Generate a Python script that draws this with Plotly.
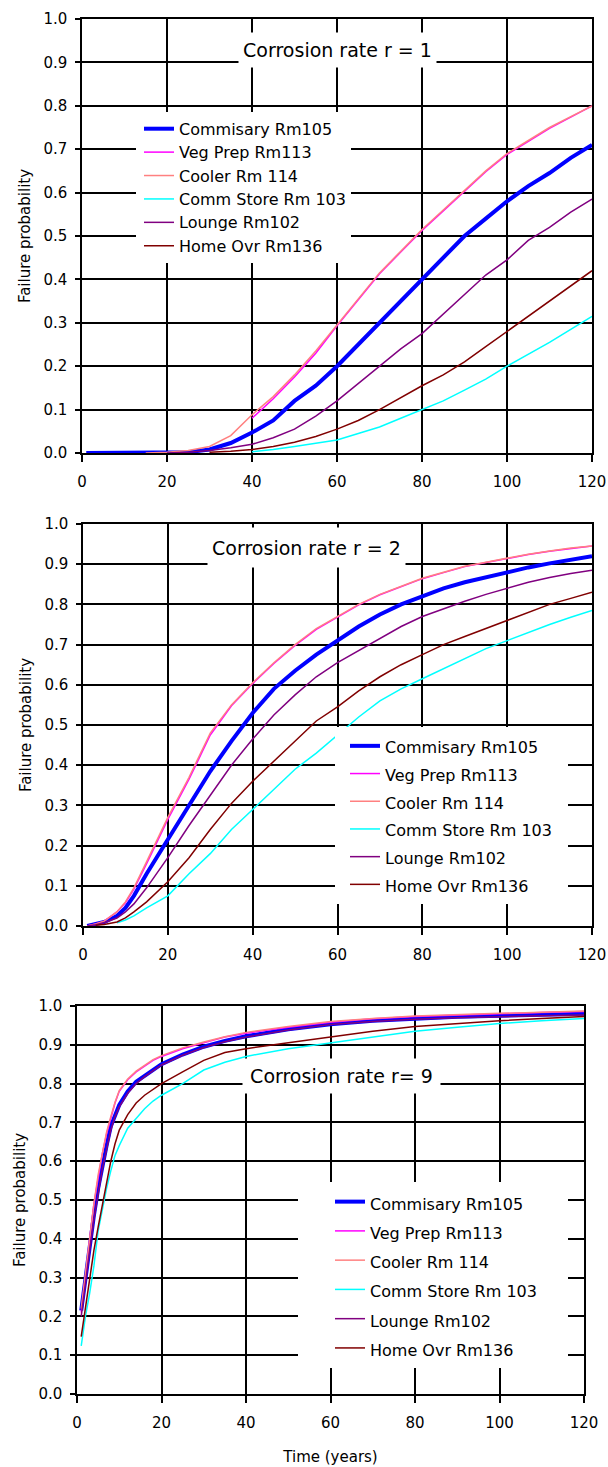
import plotly.graph_objects as go

# ---------------- data ----------------
series_names = ["Commisary Rm105", "Veg Prep Rm113", "Cooler Rm 114",
                "Comm Store Rm 103", "Lounge Rm102", "Home Ovr Rm136"]
series_colors = ["#0000FF", "#FF00FF", "#FF8080", "#00FFFF", "#800080", "#800000"]
series_widths = [4, 1.5, 1.5, 1.5, 1.5, 1.5]

panel_titles = ["Corrosion rate r = 1", "Corrosion rate r = 2", "Corrosion rate r= 9"]

x_tick_vals = [0, 20, 40, 60, 80, 100, 120]
y_tick_vals = [0.0, 0.1, 0.2, 0.3, 0.4, 0.5, 0.6, 0.7, 0.8, 0.9, 1.0]

t_r1 = [1, 5, 10, 15, 20, 25, 30, 35, 40, 45, 50, 55, 60, 65, 70, 75, 80,
        85, 90, 95, 100, 105, 110, 115, 120]
commisary_r1 = [0.0, 0.0, 0.0, 0.0, 0.0, 0.002, 0.008, 0.023, 0.047, 0.075, 0.12, 0.155, 0.2,
                0.25, 0.3, 0.35, 0.4, 0.45, 0.5, 0.54, 0.58, 0.615, 0.645, 0.68, 0.71]
vegprep_r1 = [None, None, None, None, None, None, None, None, 0.08, 0.125, 0.175, 0.23, 0.293,
              0.353, 0.413, 0.463, 0.513, 0.558, 0.603, 0.648, 0.688, 0.718, 0.748, 0.774, 0.8]
cooler_r1 = [None, None, None, 0.0, 0.002, 0.006, 0.015, 0.04, 0.088, 0.13, 0.18, 0.235, 0.295,
             0.355, 0.415, 0.465, 0.515, 0.56, 0.605, 0.65, 0.69, 0.72, 0.75, 0.775, 0.8]
commstore_r1 = [None, None, None, None, None, None, None, None, 0.003, 0.008, 0.015, 0.022, 0.03,
                0.045, 0.06, 0.08, 0.1, 0.12, 0.145, 0.17, 0.2, 0.228, 0.255, 0.285, 0.315]
lounge_r1 = [None, None, None, None, 0.0, 0.002, 0.006, 0.012, 0.02, 0.035, 0.055, 0.085, 0.12,
             0.16, 0.2, 0.24, 0.275, 0.32, 0.365, 0.41, 0.445, 0.49, 0.52, 0.555, 0.585]
homeovr_r1 = [None, None, None, None, None, None, 0.002, 0.004, 0.008, 0.015, 0.025, 0.038, 0.055,
              0.075, 0.1, 0.127, 0.155, 0.18, 0.21, 0.245, 0.28, 0.315, 0.35, 0.385, 0.42]

t_r2 = [1, 3, 5, 8, 10, 12, 15, 20, 25, 30, 35, 40, 45, 50, 55, 60, 65, 70, 75,
        80, 85, 90, 95, 100, 105, 110, 115, 120]
commisary_r2 = [0.0, 0.005, 0.01, 0.025, 0.045, 0.075, 0.13, 0.215, 0.3, 0.385, 0.46, 0.53,
                0.59, 0.635, 0.675, 0.71, 0.745, 0.775, 0.8, 0.82, 0.84, 0.855, 0.868, 0.88,
                0.892, 0.902, 0.912, 0.92]
vegprep_r2 = [0.0, 0.005, 0.012, 0.035, 0.058, 0.092, 0.155, 0.265, 0.365, 0.475, 0.548, 0.603,
              0.653, 0.698, 0.738, 0.769, 0.799, 0.824, 0.844, 0.864, 0.879, 0.894, 0.904,
              0.914, 0.924, 0.932, 0.939, 0.945]
cooler_r2 = [0.0, 0.005, 0.012, 0.035, 0.06, 0.095, 0.16, 0.27, 0.37, 0.48, 0.55, 0.605,
             0.655, 0.7, 0.74, 0.77, 0.8, 0.825, 0.845, 0.865, 0.88, 0.895, 0.905, 0.915,
             0.925, 0.933, 0.94, 0.945]
commstore_r2 = [None, None, None, 0.008, 0.015, 0.025, 0.045, 0.075, 0.13, 0.18, 0.24, 0.29,
                0.34, 0.39, 0.43, 0.475, 0.52, 0.56, 0.59, 0.615, 0.64, 0.665, 0.69, 0.71,
                0.73, 0.75, 0.768, 0.785]
lounge_r2 = [0.0, 0.003, 0.008, 0.02, 0.035, 0.055, 0.095, 0.17, 0.25, 0.325, 0.4, 0.465,
             0.525, 0.575, 0.62, 0.655, 0.685, 0.715, 0.745, 0.77, 0.79, 0.808, 0.825, 0.84,
             0.855, 0.867, 0.877, 0.885]
homeovr_r2 = [None, 0.002, 0.004, 0.01, 0.02, 0.035, 0.06, 0.11, 0.17, 0.24, 0.305, 0.36,
              0.41, 0.46, 0.51, 0.545, 0.585, 0.62, 0.65, 0.675, 0.7, 0.72, 0.74, 0.76,
              0.78, 0.8, 0.815, 0.83]

t_r9 = [1, 2, 3, 4, 5, 6, 7, 8, 9, 10, 12, 14, 16, 18, 20, 25, 30, 35, 40, 50,
        60, 70, 80, 90, 100, 110, 120]
commisary_r9 = [0.215, 0.3, 0.38, 0.46, 0.53, 0.59, 0.64, 0.69, 0.72, 0.745, 0.78, 0.805,
                0.82, 0.835, 0.85, 0.875, 0.895, 0.91, 0.922, 0.94, 0.953, 0.962, 0.968,
                0.972, 0.975, 0.978, 0.98]
vegprep_r9 = [0.21, 0.31, 0.4, 0.49, 0.56, 0.62, 0.67, 0.71, 0.75, 0.78, 0.81, 0.83, 0.845,
              0.86, 0.87, 0.89, 0.905, 0.92, 0.93, 0.945, 0.958, 0.967, 0.973, 0.977, 0.98,
              0.983, 0.986]
cooler_r9 = [0.22, 0.315, 0.405, 0.49, 0.565, 0.625, 0.675, 0.715, 0.752, 0.782, 0.812,
             0.832, 0.847, 0.862, 0.872, 0.892, 0.907, 0.921, 0.932, 0.947, 0.96, 0.968,
             0.974, 0.978, 0.981, 0.984, 0.987]
commstore_r9 = [0.124, 0.2, 0.26, 0.33, 0.42, 0.48, 0.53, 0.575, 0.615, 0.64, 0.685, 0.71,
                0.735, 0.755, 0.77, 0.8, 0.835, 0.855, 0.87, 0.89, 0.905, 0.92, 0.935, 0.945,
                0.955, 0.962, 0.968]
lounge_r9 = [0.2, 0.29, 0.37, 0.45, 0.52, 0.58, 0.63, 0.68, 0.715, 0.74, 0.775, 0.8, 0.818,
             0.833, 0.848, 0.873, 0.893, 0.908, 0.92, 0.938, 0.952, 0.96, 0.966, 0.97,
             0.973, 0.975, 0.977]
homeovr_r9 = [0.148, 0.22, 0.3, 0.37, 0.43, 0.49, 0.55, 0.6, 0.645, 0.68, 0.72, 0.75, 0.77,
              0.785, 0.8, 0.83, 0.86, 0.88, 0.89, 0.905, 0.92, 0.935, 0.947, 0.955, 0.962,
              0.968, 0.973]

panels = [
    (t_r1, [commisary_r1, vegprep_r1, cooler_r1, commstore_r1, lounge_r1, homeovr_r1]),
    (t_r2, [commisary_r2, vegprep_r2, cooler_r2, commstore_r2, lounge_r2, homeovr_r2]),
    (t_r9, [commisary_r9, vegprep_r9, cooler_r9, commstore_r9, lounge_r9, homeovr_r9]),
]

# ---------------- layout geometry (page pixels) ----------------
W, H = 608, 1467
FONT = "DejaVu Sans"


def px(xp):
    return xp / W


def py(yp):
    return 1 - yp / H


x_domains = [[px(82), px(592)], [px(83), px(592)], [px(77), px(584)]]
y_domains = [[py(453), py(19)], [py(926), py(524)], [py(1394), py(1006)]]
legend_keys = ["legend", "legend2", "legend3"]
legend_pos = [(px(136), py(112)), (px(335), py(727)), (px(298), py(1182))]
legend_indent = [3, 10, 32]
legend_tail = [0, 2, 5]          # extra blank room on the right of each legend box
legend_font_sizes = [15.7, 19.0, 20.2]
title_pos = [(60.0, 0.9286, 34), (52.6, 0.9415, 39), (62.7, 0.8196, 34)]
ytitle_standoff = [9, 9, 9]

fig = go.Figure()
for p, (t, ys) in enumerate(panels):
    sfx = "" if p == 0 else str(p + 1)
    for name, color, width, y in zip(series_names, series_colors, series_widths, ys):
        fig.add_trace(go.Scatter(
            x=t, y=y, mode="lines", connectgaps=False,
            name='<span style="font-size:16px">' + name + "&nbsp;" * legend_tail[p] + "</span>",
            line=dict(color=color, width=width),
            xaxis="x" + sfx, yaxis="y" + sfx,
            legend=legend_keys[p],
        ))

layout = dict(
    width=W, height=H,
    margin=dict(l=0, r=0, t=0, b=0, autoexpand=False),
    paper_bgcolor="white", plot_bgcolor="white",
    font=dict(family=FONT, color="black"),
    annotations=[],
)
for p in range(3):
    sfx = "" if p == 0 else str(p + 1)
    axis_common = dict(
        showgrid=True, gridcolor="black", gridwidth=1.5,
        showline=True, linecolor="black", linewidth=1.5, mirror=True,
        ticks="outside", tickwidth=1.5, tickcolor="black", automargin=False,
        zeroline=False, tickfont=dict(family=FONT, size=15, color="black"),
        fixedrange=True,
    )
    xa = dict(axis_common, domain=x_domains[p], anchor="y" + sfx, range=[0, 120],
              tickvals=x_tick_vals, ticklen=7, ticklabelstandoff=7)
    ya = dict(axis_common, domain=y_domains[p], anchor="x" + sfx, range=[0, 1],
              tickvals=y_tick_vals, tickformat=".1f", ticklen=5, ticklabelstandoff=5,
              title=dict(text="Failure probability", font=dict(family=FONT, size=15),
                         standoff=ytitle_standoff[p]))
    if p == 2:
        xa["title"] = dict(text="Time (years)", font=dict(family=FONT, size=15), standoff=21)
    layout["xaxis" + sfx] = xa
    layout["yaxis" + sfx] = ya
    lx, ly = legend_pos[p]
    layout[legend_keys[p]] = dict(
        x=lx, y=ly, xanchor="left", yanchor="top", bgcolor="white",
        borderwidth=0, itemwidth=30, indentation=legend_indent[p],
        font=dict(family=FONT, size=legend_font_sizes[p], color="black"),
    )
    ax, ay, bh = title_pos[p]
    layout["annotations"].append(dict(
        x=ax, y=ay, xref="x" + sfx, yref="y" + sfx, text=panel_titles[p],
        showarrow=False, bgcolor="white", borderpad=0, width=197, height=bh,
        font=dict(family=FONT, size=19, color="black"),
    ))

fig.update_layout(**layout)

# the figure fills the whole 608x1467 page: drop the default 8px body margin
page_fix = "document.body.style.margin = '0';"
fig.write_html("out.html", post_script=page_fix, config={"displayModeBar": False})
